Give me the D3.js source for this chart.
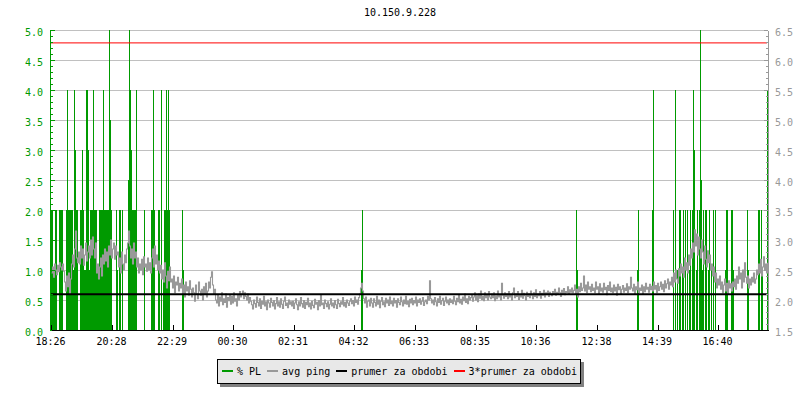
<!DOCTYPE html>
<html><head><meta charset="utf-8">
<script src="https://cdn.jsdelivr.net/npm/d3@7"></script>
<style>
body{margin:0;background:#fff}
svg{display:block}
text{font-family:"DejaVu Sans Mono",monospace;font-size:10px}
</style>
</head><body>
<svg id="chart" width="800" height="400"></svg>
<script>
const title = "10.150.9.228";
const tickLabels = ["18:26","20:28","22:29","00:30","02:31","04:32","06:33","08:35","10:36","12:38","14:39","16:40"];
const tickMinutes = [0,122,243,364,485,606,727,849,970,1092,1213,1334];
const totalMinutes = 1434;
const stepMin = 2;
const leftMajor = [0,0.5,1,1.5,2,2.5,3,3.5,4,4.5,5];
const rightMajor = [1.5,2,2.5,3,3.5,4,4.5,5,5.5,6,6.5];
const avgPing = 2.095;

// avg ping (ms), one sample per 2 minutes
const ping = [
2.45,2.55,2.38,2.6,2.5,2.42,2.58,2.47,2.62,2.55,2.5,2.6,2.48,2.3,2.15,2.4,2.22,2.45,2.1,2.35,
2.6,2.75,2.55,2.85,3.15,2.7,2.62,2.8,2.6,2.9,2.7,2.85,2.58,2.75,2.95,2.65,2.8,2.9,2.7,3.0,
2.75,3.05,2.85,2.7,2.95,2.45,2.6,2.35,2.55,2.7,2.4,2.75,2.6,2.85,2.65,2.8,2.55,2.9,2.75,3.0,
2.7,2.85,2.95,2.68,2.9,2.75,2.8,2.55,2.7,2.45,2.8,2.6,2.5,2.75,2.62,2.85,2.95,3.15,2.9,2.7,
2.85,2.6,2.95,2.7,2.8,2.55,2.7,2.45,2.6,2.5,2.68,2.42,2.72,2.55,2.6,2.48,2.7,2.5,2.62,2.45,
2.7,2.85,2.55,2.9,2.6,2.75,2.5,2.65,2.45,2.58,2.35,2.5,2.3,2.62,2.4,2.2,2.48,2.32,2.55,2.3,
2.35,2.2,2.4,2.12,2.3,2.25,2.38,2.15,2.28,2.2,2.35,2.1,2.25,2.05,2.3,2.15,2.22,2.08,2.32,2.18,
2.05,2.2,2.12,1.98,2.25,2.1,2.02,2.3,2.15,2.08,2.18,2.0,2.22,2.1,2.28,2.05,2.15,2.3,2.2,2.38,
2.47,2.25,2.1,2.18,2.0,1.95,2.08,1.9,2.05,1.98,2.12,1.92,2.02,1.96,2.1,1.88,2.04,1.99,2.08,1.93,
2.06,1.95,2.12,1.98,2.02,1.9,2.08,2.0,2.14,2.05,2.1,2.15,2.02,2.12,2.06,2.0,2.1,1.95,2.04,1.98,
1.92,1.85,2.0,1.94,1.88,2.05,1.96,1.9,2.02,1.86,1.98,1.93,2.06,1.9,1.97,1.84,2.0,1.95,1.88,2.03,
1.96,1.9,1.99,1.85,1.94,2.04,1.9,1.97,1.88,2.02,1.93,1.86,1.98,2.05,1.91,1.95,1.87,2.0,1.93,1.97,
1.9,1.98,1.86,1.95,2.02,1.92,1.84,1.97,1.9,2.04,1.94,1.88,1.99,1.86,1.96,1.92,2.03,1.89,1.95,1.85,
1.98,1.91,1.87,2.01,1.93,1.96,1.84,1.99,1.9,2.08,1.92,1.95,1.86,2.0,1.94,1.89,1.97,1.85,1.93,2.02,
1.9,1.95,1.87,1.99,1.92,1.86,2.01,1.94,1.89,1.97,1.93,2.04,1.9,1.96,1.88,2.0,1.95,1.91,1.98,2.02,
1.94,1.99,1.9,2.05,1.96,2.0,1.93,2.04,2.1,2.2,2.28,2.15,2.02,1.95,2.05,1.88,1.98,2.0,1.9,2.03,
1.95,1.88,2.02,1.96,1.9,2.06,1.93,2.0,1.87,1.98,2.04,1.92,1.97,1.89,2.03,1.95,2.0,1.91,2.05,1.94,
1.98,1.9,2.03,1.95,1.99,1.88,2.02,1.96,1.92,2.05,1.97,1.9,2.0,1.94,2.06,1.93,1.98,1.89,2.01,1.95,
2.03,1.92,1.99,1.95,2.05,1.9,2.0,1.96,2.02,1.93,1.98,2.04,1.91,1.97,2.0,1.94,2.06,2.0,2.32,2.02,
1.95,2.0,1.92,2.04,1.97,1.9,2.02,1.96,2.06,1.93,1.99,2.03,1.91,1.98,2.05,1.95,2.0,1.92,2.02,1.96,
2.0,1.94,2.06,1.98,1.92,2.03,1.97,2.08,1.95,2.01,1.93,2.05,1.99,2.1,1.96,2.02,1.94,2.06,2.0,2.04,
2.08,1.98,2.05,2.12,2.0,2.07,1.97,2.1,2.03,2.15,2.01,2.06,1.99,2.12,2.04,2.08,2.0,2.14,2.05,2.02,
2.1,2.04,2.12,1.99,2.07,2.02,2.15,2.05,2.09,2.0,2.28,2.08,2.03,2.12,2.06,2.1,2.02,2.14,2.05,2.09,
2.0,2.12,2.2,2.04,2.1,2.06,2.14,2.01,2.09,2.05,2.16,2.03,2.11,2.07,2.0,2.13,2.06,2.1,2.04,2.15,
2.08,2.02,2.12,2.06,2.17,2.04,2.1,2.07,2.14,2.03,2.11,2.08,2.16,2.05,2.12,2.09,2.15,2.06,2.13,2.1,
2.07,2.14,2.11,2.18,2.08,2.13,2.1,2.2,2.12,2.06,2.16,2.11,2.19,2.09,2.14,2.12,2.22,2.1,2.17,2.13,
2.2,2.12,2.16,2.25,2.1,2.18,2.05,2.22,2.14,2.28,2.16,2.2,2.4,2.15,2.25,2.12,2.3,2.18,2.22,2.14,
2.26,2.16,2.2,2.12,2.3,2.18,2.22,2.1,2.27,2.15,2.2,2.13,2.28,2.17,2.21,2.09,2.24,2.16,2.3,2.14,
2.2,2.12,2.25,2.15,2.21,2.08,2.26,2.17,2.22,2.1,2.18,2.24,2.13,2.2,2.16,2.27,2.12,2.22,2.18,2.38,
2.2,2.15,2.26,2.1,2.22,2.17,2.3,2.12,2.2,2.16,2.25,2.1,2.22,2.14,2.28,2.18,2.21,2.13,2.26,2.17,
2.23,2.15,2.3,2.18,2.24,2.12,2.28,2.16,2.22,2.3,2.18,2.26,2.14,2.32,2.2,2.27,2.35,2.18,2.3,2.25,
2.38,2.22,2.45,2.3,2.5,2.35,2.28,2.52,2.4,2.6,2.45,2.55,2.38,2.7,2.5,2.62,2.45,2.75,2.58,2.85,
2.7,2.95,2.8,3.17,2.9,3.1,2.75,3.05,2.85,2.7,3.0,2.8,2.6,2.9,2.68,2.55,2.82,2.62,2.75,2.5,
2.6,2.4,2.55,2.3,2.45,2.2,2.35,2.25,2.4,2.18,2.3,2.12,2.25,2.35,2.15,2.28,2.1,2.32,2.2,2.27,
2.15,2.3,2.22,2.35,2.18,2.4,2.28,2.55,2.35,2.45,2.2,2.5,2.3,2.62,2.38,2.28,2.4,2.2,2.35,2.25,
2.38,2.3,2.45,2.28,2.35,2.5,2.42,2.6,2.45,2.68,2.4,2.55,2.72,2.5,2.6,2.45,2.62
];

// % packet loss: sample index (2-minute steps) and value, non-zero samples only
const plIdx = [
0,1,2,3,4,5,8,9,10,11,15,16,17,18,19,20,21,22,23,24,25,26,29,30,31,32,33,34,35,36,37,38,
39,40,41,42,43,44,45,46,47,48,49,50,51,52,53,54,55,56,57,58,59,60,65,66,68,69,71,
77,78,79,80,81,82,83,84,85,93,100,101,102,103,107,108,110,112,113,114,115,116,117,118,
131,132,310,311,525,526,586,587,601,602,
622,624,626,628,629,631,632,634,636,638,639,641,642,643,645,646,648,649,650,651,652,654,655,657,658,660,662,664,
674,675,676,680,681,682,696,697,707,708,710,711,716
];
const plVal = [
2,2,1,1,2,2,2,2,2,2,2,4,2,2,2,2,2,1,4,3,2,2,2,2,3,2,1,1,4,4,3,1,
2,2,2,4,2,2,2,1,1,2,2,2,2,4,2,2,2,2,2,6,3.5,2,2,1,2,2,2,
2.5,6,4,3,2,2,2,2,4,2,2,2,4,2,2,2,4,1,2,2,4,2,4,2,
2,1,1,2,2,1,1,2,2,4,
2,4,1,2,2,1,2,2,2,1,2,2,4,3,1,2,2,6,2.5,1,2,2,2,1,2,1,2,2,
1,2,2,2,2,1,2,1,2,2,2,1,4
];

const legendLabels = ["% PL","avg ping","prumer za obdobi","3*prumer za obdobi"];
const legendColors = ["#009a00","#999999","#000000","#ff0000"];

const cGreen = "#009a00", cGray = "#999999", cGrid = "#c0c0c0";

const svg = d3.select("#chart");
const x = d3.scaleLinear().domain([0, totalMinutes]).range([51, 768]);
const yL = d3.scaleLinear().domain([0, 5]).range([330, 30]);
const yR = d3.scaleLinear().domain([1.5, 6.5]).range([330, 30]);

svg.append("defs").append("clipPath").attr("id","plot")
  .append("rect").attr("x",51).attr("y",30).attr("width",717).attr("height",300);

// title
svg.append("text").attr("x",400).attr("y",16).attr("text-anchor","middle").attr("fill","#000").text(title);

// grid
svg.append("g").selectAll("line").data(leftMajor.filter(d=>d>0)).join("line")
  .attr("x1",51).attr("x2",766)
  .attr("y1",d=>yL(d)+0.5).attr("y2",d=>yL(d)+0.5)
  .attr("stroke",cGrid).attr("stroke-width",1).attr("shape-rendering","crispEdges");

const plot = svg.append("g").attr("clip-path","url(#plot)");

// PL bars
plot.append("g").selectAll("rect").data(plIdx.map((d,k)=>({i:d,v:plVal[k]}))).join("rect")
  .attr("x",d=>x(d.i*stepMin)).attr("width",d=>x((d.i+1)*stepMin)-x(d.i*stepMin))
  .attr("y",d=>yL(d.v)).attr("height",d=>yL(0)-yL(d.v))
  .attr("fill",cGreen).attr("shape-rendering","crispEdges");

// ping line
plot.append("path").datum(ping)
  .attr("d", d3.line().curve(d3.curveStepAfter).x((d,i)=>x(i*stepMin)+0.5).y(d=>yR(d)))
  .attr("fill","none").attr("stroke",cGray).attr("stroke-width",1.1);

// average lines
plot.append("line").attr("x1",51).attr("x2",767).attr("y1",yR(avgPing)).attr("y2",yR(avgPing))
  .attr("stroke","#000").attr("stroke-width",2);
plot.append("line").attr("x1",51).attr("x2",767).attr("y1",yR(avgPing*3)).attr("y2",yR(avgPing*3))
  .attr("stroke","#ff0000").attr("stroke-width",1);

// left axis
const minorL = d3.range(0,51).map(d=>d/10).filter(d=>Math.abs(d*2-Math.round(d*2))>1e-6);
const gL = svg.append("g").attr("transform","translate(50,0)");
gL.call(d3.axisLeft(yL).tickValues(leftMajor).tickSize(-5).tickSizeOuter(0).tickPadding(7).tickFormat(d3.format(".1f")));
const gLm = svg.append("g").attr("transform","translate(50,0)");
gLm.call(d3.axisLeft(yL).tickValues(minorL).tickSize(-3).tickSizeOuter(0).tickFormat(""));
gLm.select(".domain").remove();
[gL,gLm].forEach(g=>{
  g.select(".domain").attr("stroke",cGreen);
  g.selectAll(".tick line").attr("stroke",cGreen);
  g.selectAll("text").attr("fill",cGreen).attr("dy","0.52em").style("font-family","DejaVu Sans Mono").style("font-size","10px");
  g.attr("shape-rendering","crispEdges");
});

// right axis
const minorR = d3.range(15,66).map(d=>d/10).filter(d=>Math.abs(d*2-Math.round(d*2))>1e-6);
const gR = svg.append("g").attr("transform","translate(768,0)");
gR.call(d3.axisRight(yR).tickValues(rightMajor).tickSize(-4).tickSizeOuter(0).tickPadding(7).tickFormat(d3.format(".1f")));
const gRm = svg.append("g").attr("transform","translate(768,0)");
gRm.call(d3.axisRight(yR).tickValues(minorR).tickSize(-2).tickSizeOuter(0).tickFormat(""));
gRm.select(".domain").remove();
[gR,gRm].forEach(g=>{
  g.select(".domain").attr("stroke",cGray);
  g.selectAll(".tick line").attr("stroke",cGray);
  g.selectAll("text").attr("fill",cGray).attr("dy","0.55em").style("font-family","DejaVu Sans Mono").style("font-size","10px");
  g.attr("shape-rendering","crispEdges");
});

// bottom axis
const gB = svg.append("g").attr("transform","translate(0,330)");
gB.call(d3.axisBottom(x).tickValues(tickMinutes).tickSize(-5).tickSizeOuter(0).tickPadding(8)
  .tickFormat((d,i)=>tickLabels[i]));
gB.select(".domain").attr("stroke","#000");
gB.selectAll(".tick line").attr("stroke","#000");
gB.selectAll("text").attr("fill","#000").attr("dx","-1").style("font-family","DejaVu Sans Mono").style("font-size","10px");
gB.attr("shape-rendering","crispEdges");

// legend
const lg = svg.append("g");
const shadow = lg.append("rect").attr("fill","#808080");
const box = lg.append("rect").attr("fill","#e8e8e8").attr("stroke","#000").attr("stroke-width",1).attr("shape-rendering","crispEdges");
let lx = 222;
legendLabels.forEach((lab,k)=>{
  lg.append("rect").attr("x",lx).attr("y",370).attr("width",11).attr("height",2)
    .attr("fill",legendColors[k]).attr("shape-rendering","crispEdges");
  const t = lg.append("text").attr("x",lx+15).attr("y",375).attr("fill","#000").text(lab);
  lx = lx + 15 + t.node().getComputedTextLength() + 6;
});
const bw = lx - 6 + 3 - 217;
box.attr("x",217.5).attr("y",359.5).attr("width",bw).attr("height",24);
shadow.attr("x",220).attr("y",362).attr("width",bw+1).attr("height",25);
</script>
</body></html>
